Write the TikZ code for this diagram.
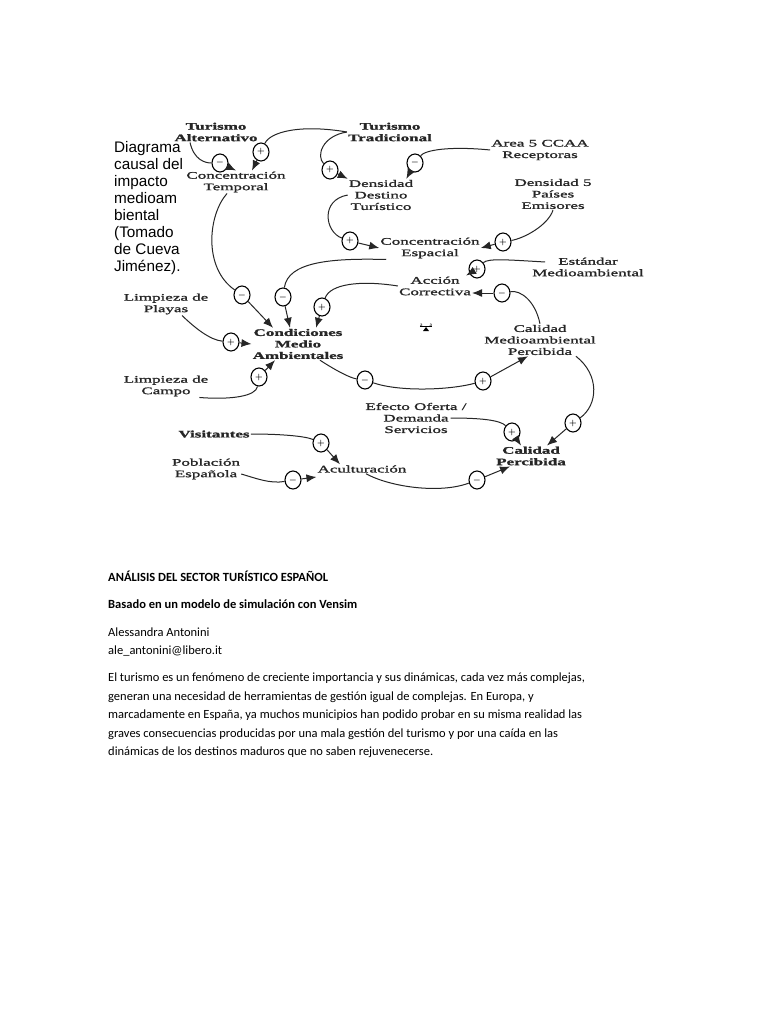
\documentclass[tikz,border=0pt]{standalone}
\usepackage{fontspec}
\usepackage{tikz}
\usetikzlibrary{arrows.meta,shapes.geometric}
\setmainfont{Carlito}
\newfontfamily\labfont[FakeStretch=1.7,FakeBold=1.5]{Liberation Serif}
\newfontfamily\notefont{Liberation Sans}

\begin{document}
\begin{tikzpicture}[x=1pt,y=-1pt,
  lbl/.style={align=center,inner sep=1pt,text=black!85,font=\labfont\fontsize{10}{11.5}\selectfont},
  lblb/.style={lbl,font=\labfont\bfseries\fontsize{10}{11.5}\selectfont},
  sgn/.style={draw,ellipse,line width=1.1pt,minimum width=16pt,minimum height=18pt,inner sep=0pt,font=\footnotesize\boldmath},
  link/.style={line width=1pt,black!85},
  arr/.style={link,-{Latex[length=10pt,width=8pt]}}]
\fill[white] (0,0) rectangle (768,1024);
\useasboundingbox (0,0) rectangle (768,1024);

% note on the left
\node[anchor=north west,align=left,inner sep=0pt,font=\notefont\fontsize{15.3}{17}\selectfont] (note) at (114,141)
  {Diagrama\\causal del\\impacto\\medioam\\biental\\(Tomado\\de Cueva\\Jiménez).};

% variables
\node[lblb] (ta) at (216,132) {Turismo\\Alternativo};
\node[lbl] (ct) at (236,182) {Concentración\\Temporal};
\node[lblb] (tt) at (390,132) {Turismo\\Tradicional};
\node[lbl] (ddt) at (381,195) {Densidad\\Destino\\Turístico};
\node[lbl] (ar) at (540,150) {Area 5 CCAA\\Receptoras};
\node[lbl] (dpe) at (553,194) {Densidad 5\\Países\\Emisores};
\node[lbl] (ce) at (430,248) {Concentración\\Espacial};
\node[lbl] (em) at (588,267) {Estándar\\Medioambiental};
\node[lbl] (ac) at (435,286) {Acción\\Correctiva};
\node[lbl] (lp) at (166,304) {Limpieza de\\Playas};
\node[lblb] (cma) at (298,344) {Condiciones\\Medio\\Ambientales};
\node[lbl] (cmp) at (540,340) {Calidad\\Medioambiental\\Percibida};
\node[lbl] (lc) at (166,386) {Limpieza de\\Campo};
\node[lbl] (eo) at (416,418) {Efecto Oferta /\\Demanda\\Servicios};
\node[lblb] (vi) at (214,434) {Visitantes};
\node[lbl] (pe) at (206,469) {Población\\Española};
\node[lbl] (acu) at (362,469) {Aculturación};
\node[lblb] (cp) at (531,456) {Calidad\\Percibida};

% small balance mark
\node[inner sep=0pt,font=\tiny] (bal) at (426,325) {a\hspace{7pt}a};
\draw[line width=0.6pt] (bal.south west) -- (bal.south east);
\fill (426,327) -- (423,331) -- (429,331) -- cycle;

% signs
\node[sgn] (s1) at (220,163) {$-$};
\node[sgn] (s2) at (261,152) {$+$};
\node[sgn] (s3) at (330,170) {$+$};
\node[sgn] (s4) at (415,163) {$-$};
\node[sgn] (s5) at (350,241) {$+$};
\node[sgn] (s6) at (503,242) {$+$};
\node[sgn] (s7) at (242,295) {$-$};
\node[sgn] (s8) at (283,297) {$-$};
\node[sgn] (s9) at (322,307) {$+$};
\node[sgn] (s10) at (477,269) {$+$};
\node[sgn] (s11) at (502,293) {$-$};
\node[sgn] (s12) at (231,342) {$+$};
\node[sgn] (s13) at (259,377) {$+$};
\node[sgn] (s14) at (365,380) {$-$};
\node[sgn] (s15) at (483,381) {$+$};
\node[sgn] (s16) at (573,423) {$+$};
\node[sgn] (s17) at (512,432) {$+$};
\node[sgn] (s18) at (321,443) {$+$};
\node[sgn] (s19) at (293,480) {$-$};
\node[sgn] (s20) at (477,480) {$-$};

% links
\draw[link] ([xshift=-26pt]ta.south) .. controls (194,160) and (205,163) .. (s1);
\draw[arr] (s1) -- (ct.north);
\draw[link] (tt.west) .. controls (300,124) and (270,132) .. (s2);
\draw[arr] (s2) -- ([xshift=16pt]ct.north);
\draw[link] (tt.west) .. controls (322,136) and (316,156) .. (s3);
\draw[arr] (s3) -- (ddt.north west);
\draw[link] (ar.west) .. controls (450,146) and (425,150) .. (s4);
\draw[arr] (s4) -- ([xshift=-8pt]ddt.north east);
\draw[link] (ddt.west) .. controls (320,200) and (325,232) .. (s5);
\draw[arr] (s5) -- (ce.west);
\draw[link] (dpe.south) .. controls (548,225) and (525,238) .. (s6);
\draw[arr] (s6) -- (ce.east);
\draw[link] ([xshift=-9pt]ct.south) .. controls (208,215) and (203,268) .. (s7);
\draw[arr] (s7) -- ([xshift=-25pt]cma.north);
\draw[link] ([xshift=7pt]ce.south west) .. controls (330,258) and (288,262) .. (s8);
\draw[arr] (s8) -- ([xshift=-8pt]cma.north);
\draw[link] (ac.west) .. controls (360,280) and (330,284) .. (s9);
\draw[arr] (s9) -- ([xshift=18pt]cma.north);
\draw[link] ([xshift=14pt,yshift=5pt]em.west) .. controls (510,260) and (488,258) .. (s10);
\draw[arr] (s10) -- ([xshift=-6pt]ac.north east);
\draw[link] (cmp.north) .. controls (535,300) and (520,290) .. (s11);
\draw[arr] (s11) -- (s11 -| ac.east);
\draw[link] ([xshift=16pt]lp.south) .. controls (195,328) and (210,340) .. (s12);
\draw[arr] (s12) -- (cma.west);
\draw[link] ([xshift=-10pt]lc.south east) .. controls (232,400) and (256,396) .. (s13);
\draw[arr] (s13) -- ([xshift=-23pt]cma.south);
\draw[link] ([xshift=22pt]cma.south) .. controls (335,370) and (350,378) .. (s14);
\draw[link] (s14) .. controls (400,392) and (450,390) .. (s15);
\draw[arr] (s15) -- ([xshift=-12pt]cmp.south);
\draw[link] ([xshift=-21pt]cmp.south east) .. controls (600,375) and (598,405) .. (s16);
\draw[arr] (s16) -- ([xshift=-20pt]cp.north east);
\draw[link] ([xshift=-17pt]eo.east) .. controls (480,418) and (500,420) .. (s17);
\draw[arr] (s17) -- ([xshift=-10pt]cp.north);
\draw[link] (vi.east) .. controls (280,434) and (305,436) .. (s18);
\draw[arr] (s18) -- ([xshift=-22pt]acu.north);
\draw[link] ([yshift=-5pt]pe.east) .. controls (255,478) and (270,484) .. (s19);
\draw[arr] (s19) -- ([yshift=-8pt]acu.west);
\draw[link] ([xshift=4pt]acu.south) .. controls (390,487) and (440,494) .. (s20);
\draw[arr] (s20) -- ([xshift=-21pt]cp.south);

% text below
\node[anchor=base west,inner sep=0pt,font=\bfseries\fontsize{12.5}{14}\selectfont] (title) at (108,581)
  {ANÁLISIS DEL SECTOR TURÍSTICO ESPAÑOL};
\node[anchor=base west,inner sep=0pt,font=\bfseries\fontsize{12.5}{14}\selectfont] (sub) at (108,608)
  {Basado en un modelo de simulación con Vensim};
\node[anchor=base west,inner sep=0pt,font=\fontsize{12.5}{14}\selectfont] (auth) at (108,636)
  {Alessandra Antonini};
\node[anchor=base west,inner sep=0pt,font=\fontsize{12.5}{14}\selectfont] (mail) at (108,654)
  {ale\_antonini@libero.it};
\node[anchor=north west,align=left,inner sep=0pt,font=\fontsize{12.5}{18.5}\selectfont] (body) at (108,673)
  {El turismo es un fenómeno de creciente importancia y sus dinámicas, cada vez más complejas,\\
   generan una necesidad de herramientas de gestión igual de complejas. En Europa, y\\
   marcadamente en España, ya muchos municipios han podido probar en su misma realidad las\\
   graves consecuencias producidas por una mala gestión del turismo y por una caída en las\\
   dinámicas de los destinos maduros que no saben rejuvenecerse.};
\end{tikzpicture}
\end{document}
